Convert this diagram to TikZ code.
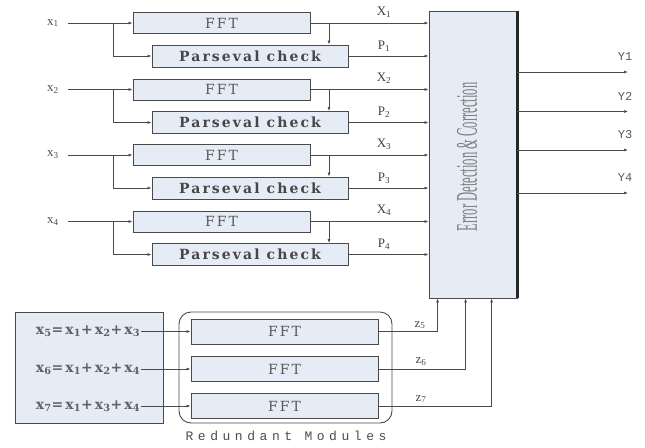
\documentclass[tikz,border=0pt]{standalone}
\usepackage{fontspec}
\usepackage{graphicx}
\setmainfont{Liberation Serif}
\newfontfamily\spaced[LetterSpace=15]{DejaVu Serif}
\newfontfamily\spmono[LetterSpace=35]{Liberation Mono}
\newfontfamily\ysans{Liberation Mono}
\usetikzlibrary{arrows.meta,calc}
\definecolor{boxfill}{HTML}{E5ECF6}
\definecolor{linec}{HTML}{4A4A4A}
\begin{document}
\begin{tikzpicture}[x=1pt,y=-1pt,
  blk/.style={draw=linec, line width=0.9pt, fill=boxfill, inner sep=0pt},
  fftbox/.style={blk, minimum width=177pt, minimum height=21pt, font=\spaced\fontsize{14}{14}\selectfont, text=black!65},
  parbox/.style={blk, minimum width=196pt, minimum height=22pt, font=\spaced\bfseries\fontsize{14}{14}\selectfont, text=black!72},
  rfft/.style={blk, minimum width=187pt, minimum height=25pt, font=\spaced\fontsize{14}{14}\selectfont, text=black!65},
  arr/.style={draw=linec, line width=0.7pt, -{Latex[length=4pt,width=3pt]}},
  lab/.style={font=\fontsize{13}{13}\selectfont, text=black!75, inner sep=0pt},
  slab/.style={font=\fontsize{13}{13}\selectfont, text=black!70, inner sep=0pt},
  ylab/.style={font=\ysans\fontsize{12}{12}\selectfont, text=black!65, inner sep=0pt},
  eqtext/.style={font=\spaced\bfseries\fontsize{14}{14}\selectfont, text=black!62, inner sep=1pt},
]
\useasboundingbox (0,0) rectangle (645,447);

% big error detection box
\node[blk, minimum width=88pt, minimum height=287pt] (big) at (473,154.5) {};
\draw[line width=2.2pt, black!85] (big.north east) -- (big.south east);
\node[rotate=90, text=black!50, inner sep=0pt] (edc) at (467,157)
  {\scalebox{0.42}[1]{\fontsize{30}{30}\selectfont Error Detection \& Correction}};

% four channels
\foreach \i/\y in {1/23,2/89.5,3/155,4/221.5}{
  \pgfmathsetmacro\yp{\y+33}
  \node[fftbox] (fft\i) at (221.5,\y) {FFT};
  \node[parbox] (par\i) at (250,\yp) {Parseval check};
  \node[slab] (x\i) at (53,\y) {x\textsubscript{\i}};
  \draw[arr] ([xshift=9pt]x\i.east) -- (fft\i.west);
  \coordinate (b\i) at (113,\y);
  \draw[arr] (b\i) |- (par\i.west);
  \draw[arr] (fft\i.east) -- (fft\i.east -| big.west);
  \coordinate (c\i) at (329,\y);
  \draw[arr] (c\i) -- (c\i |- par\i.north);
  \draw[arr] (par\i.east) -- (par\i.east -| big.west);
  \node[lab] (X\i) at (384,\y-11) {X\textsubscript{\i}};
  \node[lab] (P\i) at (384,\yp-10) {P\textsubscript{\i}};
}

% outputs
\foreach \j/\yy in {1/72,2/111.5,3/150,4/193}{
  \coordinate (yo\j) at (628,\yy);
  \draw[arr] (yo\j -| big.east) -- (yo\j);
  \node[ylab] (Y\j) at (625,\yy-15) {Y\j};
}

% bottom: redundant modules
\node[blk, minimum width=148pt, minimum height=111pt] (lbox) at (89,367.5) {};
\node[draw=linec, line width=0.9pt, rounded corners=12pt, minimum width=213pt, minimum height=111pt] (rbox) at (285.5,367.5) {};
\node[rfft] (r5) at (284.5,331.5) {FFT};
\node[rfft] (r6) at (284.5,369) {FFT};
\node[rfft] (r7) at (284.5,406) {FFT};
\node[eqtext] (t5) at (88,331.5) {x\textsubscript{5}=x\textsubscript{1}+x\textsubscript{2}+x\textsubscript{3}};
\node[eqtext] (t6) at (88,369) {x\textsubscript{6}=x\textsubscript{1}+x\textsubscript{2}+x\textsubscript{4}};
\node[eqtext] (t7) at (88,406) {x\textsubscript{7}=x\textsubscript{1}+x\textsubscript{3}+x\textsubscript{4}};
\draw[arr] (t5.east) -- (r5.west);
\draw[arr] (t6.east) -- (r6.west);
\draw[arr] (t7.east) -- (r7.west);

\coordinate (zb5) at ($(big.south west)+(9,0)$);
\coordinate (zb6) at ($(big.south west)+(37,0)$);
\coordinate (zb7) at ($(big.south west)+(63,0)$);
\draw[arr] (r5.east) -| (zb5);
\draw[arr] (r6.east) -| (zb6);
\draw[arr] (r7.east) -| (zb7);
\node[slab] (z5) at (420,325) {z\textsubscript{5}};
\node[slab] (z6) at (421,362) {z\textsubscript{6}};
\node[slab] (z7) at (421,399) {z\textsubscript{7}};

\node[font=\spmono\fontsize{13}{13}\selectfont, text=black!70, inner sep=0pt] (rm) at (286,436) {Redundant Modules};
\end{tikzpicture}
\end{document}
